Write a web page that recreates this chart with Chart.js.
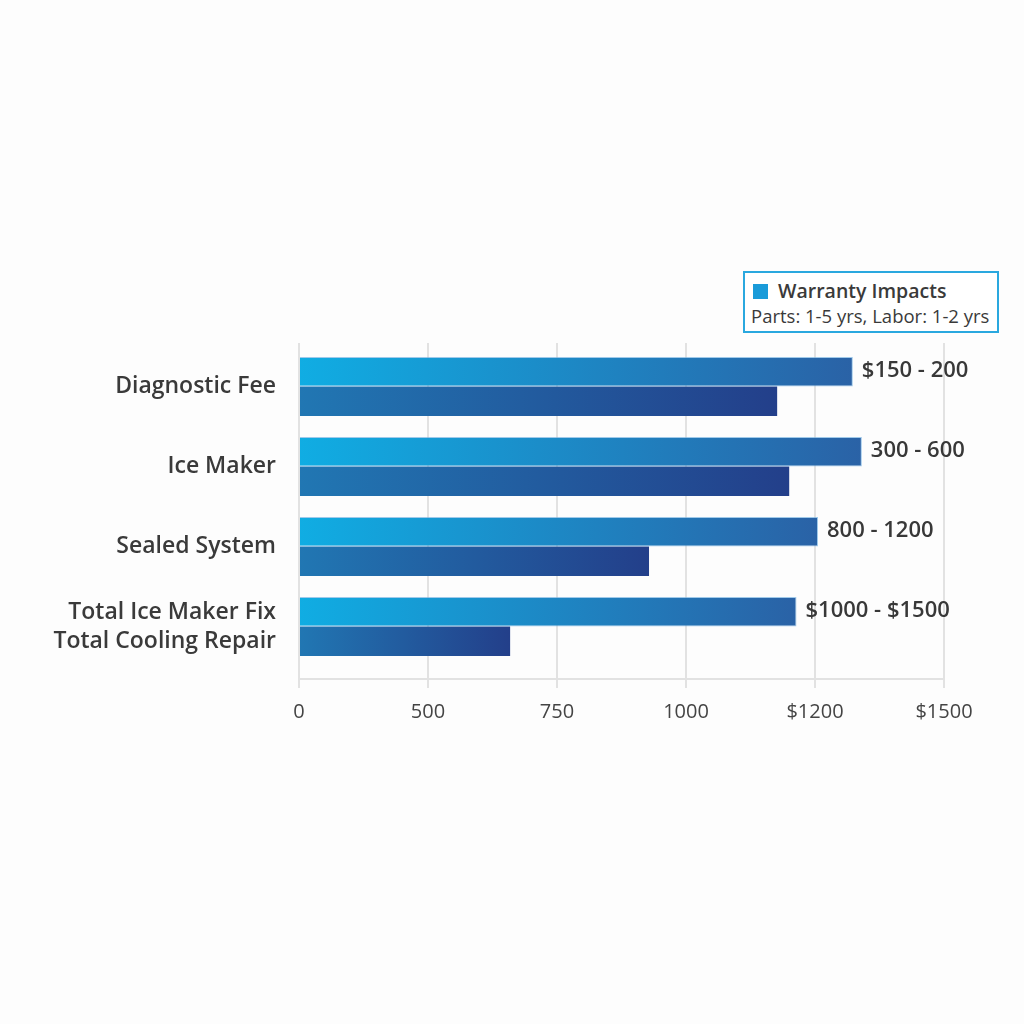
<!DOCTYPE html>
<html>
<head>
<meta charset="utf-8">
<script src="https://cdn.jsdelivr.net/npm/chart.js@4.4.1/dist/chart.umd.min.js"></script>
<style>
    html, body { margin: 0; padding: 0; background: #fdfdfd; }
    #wrap { position: relative; width: 1024px; height: 1024px; }
    #legendBox {
        position: absolute; left: 743px; top: 271px; width: 252px; height: 58px;
        border: 2px solid #2aa8df; background: #fff;
        font-family: "Open Sans", Lato, sans-serif; color: #3a3a3a; white-space: nowrap;
    }
    #legendBox .sw { position: absolute; left: 8px; top: 11px; width: 15px; height: 15px; background: #1a9bd9; }
    #legendBox .t1 { position: absolute; left: 33px; top: 4px; font-size: 19.5px; font-weight: 600; }
    #legendBox .t2 { position: absolute; left: 6px; top: 30px; font-size: 18.5px; }
</style>
</head>
<body>
<div id="wrap">
    <canvas id="costChart" width="1024" height="1024"></canvas>
    <div id="legendBox">
        <div class="sw"></div>
        <div class="t1">Warranty Impacts</div>
        <div class="t2">Parts: 1-5 yrs, Labor: 1-2 yrs</div>
    </div>
</div>
<script>
    /* Data */
    const categories = [
        'Diagnostic Fee',
        'Ice Maker',
        'Sealed System',
        ['Total Ice Maker Fix', 'Total Cooling Repair']
    ];
    const upperValues = [1288, 1309, 1207, 1157];
    const lowerValues = [1112, 1140, 814, 491];
    const barLabels = ['$150 - 200', '300 - 600', '800 - 1200', '$1000 - $1500'];
    const tickValues = [0, 300, 600, 900, 1200, 1500];
    const tickLabels = ['0', '500', '750', '1000', '$1200', '$1500'];

    const fontFamily = '"Open Sans", Lato, sans-serif';

    function barGradient(ctx, fromColor, toColor) {
        const chart = ctx.chart;
        const area = chart.chartArea;
        if (!area || ctx.type !== 'data') return fromColor;
        const xScale = chart.scales.x;
        const end = xScale.getPixelForValue(ctx.raw);
        const g = chart.ctx.createLinearGradient(area.left, 0, end, 0);
        g.addColorStop(0, fromColor);
        g.addColorStop(1, toColor);
        return g;
    }

    /* labels at the end of the upper bars */
    const endLabels = {
        id: 'endLabels',
        afterDatasetsDraw(chart) {
            const ctx = chart.ctx;
            const meta = chart.getDatasetMeta(0);
            ctx.save();
            ctx.font = '600 22px ' + fontFamily;
            ctx.fillStyle = '#383838';
            ctx.textAlign = 'left';
            ctx.textBaseline = 'middle';
            meta.data.forEach(function(bar, i) {
                ctx.fillText(barLabels[i], bar.x + 9, bar.y - 1);
            });
            ctx.restore();
        }
    };

    const config = {
        type: 'bar',
        data: {
            labels: categories,
            datasets: [
                {
                    label: 'Upper',
                    data: upperValues,
                    backgroundColor: (c) => barGradient(c, '#10ade3', '#2a62a6'),
                    borderColor: 'rgba(120, 180, 225, 0.7)',
                    borderWidth: 1,
                    categoryPercentage: 0.74,
                    barPercentage: 1.0
                },
                {
                    label: 'Lower',
                    data: lowerValues,
                    backgroundColor: (c) => barGradient(c, '#2177b3', '#233f8a'),
                    borderWidth: 0,
                    categoryPercentage: 0.74,
                    barPercentage: 1.0
                }
            ]
        },
        options: {
            indexAxis: 'y',
            responsive: false,
            animation: false,
            layout: {
                padding: { left: 0, right: 80, top: 343, bottom: 285 }
            },
            plugins: {
                legend: { display: false },
                tooltip: { enabled: false }
            },
            scales: {
                x: {
                    type: 'linear',
                    min: 0,
                    max: 1500,
                    afterBuildTicks: function(scale) {
                        scale.ticks = tickValues.map(v => ({ value: v }));
                    },
                    afterFit: function(scale) {
                        scale.height = 60;
                    },
                    grid: {
                        color: '#e2e2e2',
                        lineWidth: 2,
                        drawTicks: true,
                        tickLength: 9
                    },
                    border: { display: true, color: '#e2e2e2', width: 2 },
                    ticks: {
                        padding: 12,
                        color: '#444',
                        font: { family: fontFamily, size: 20 },
                        callback: function(value) {
                            const idx = tickValues.indexOf(value);
                            return idx >= 0 ? tickLabels[idx] : '';
                        }
                    }
                },
                y: {
                    afterFit: function(scale) {
                        scale.width = 299;
                    },
                    afterBuildTicks: function(scale) {
                        // spread the four rows the way the reference spaces them
                        scale._startValue = -0.544;
                        scale._valueRange = 4.2;
                    },
                    grid: { display: false, drawTicks: false },
                    border: { display: false },
                    ticks: {
                        padding: 23,
                        color: '#3a3a3a',
                        font: { family: fontFamily, size: 23, weight: '600', lineHeight: 1.26 }
                    }
                }
            }
        },
        plugins: [endLabels]
    };

    const ctx = document.getElementById('costChart').getContext('2d');
    window.costChart = new Chart(ctx, config);
</script>
</body>
</html>
